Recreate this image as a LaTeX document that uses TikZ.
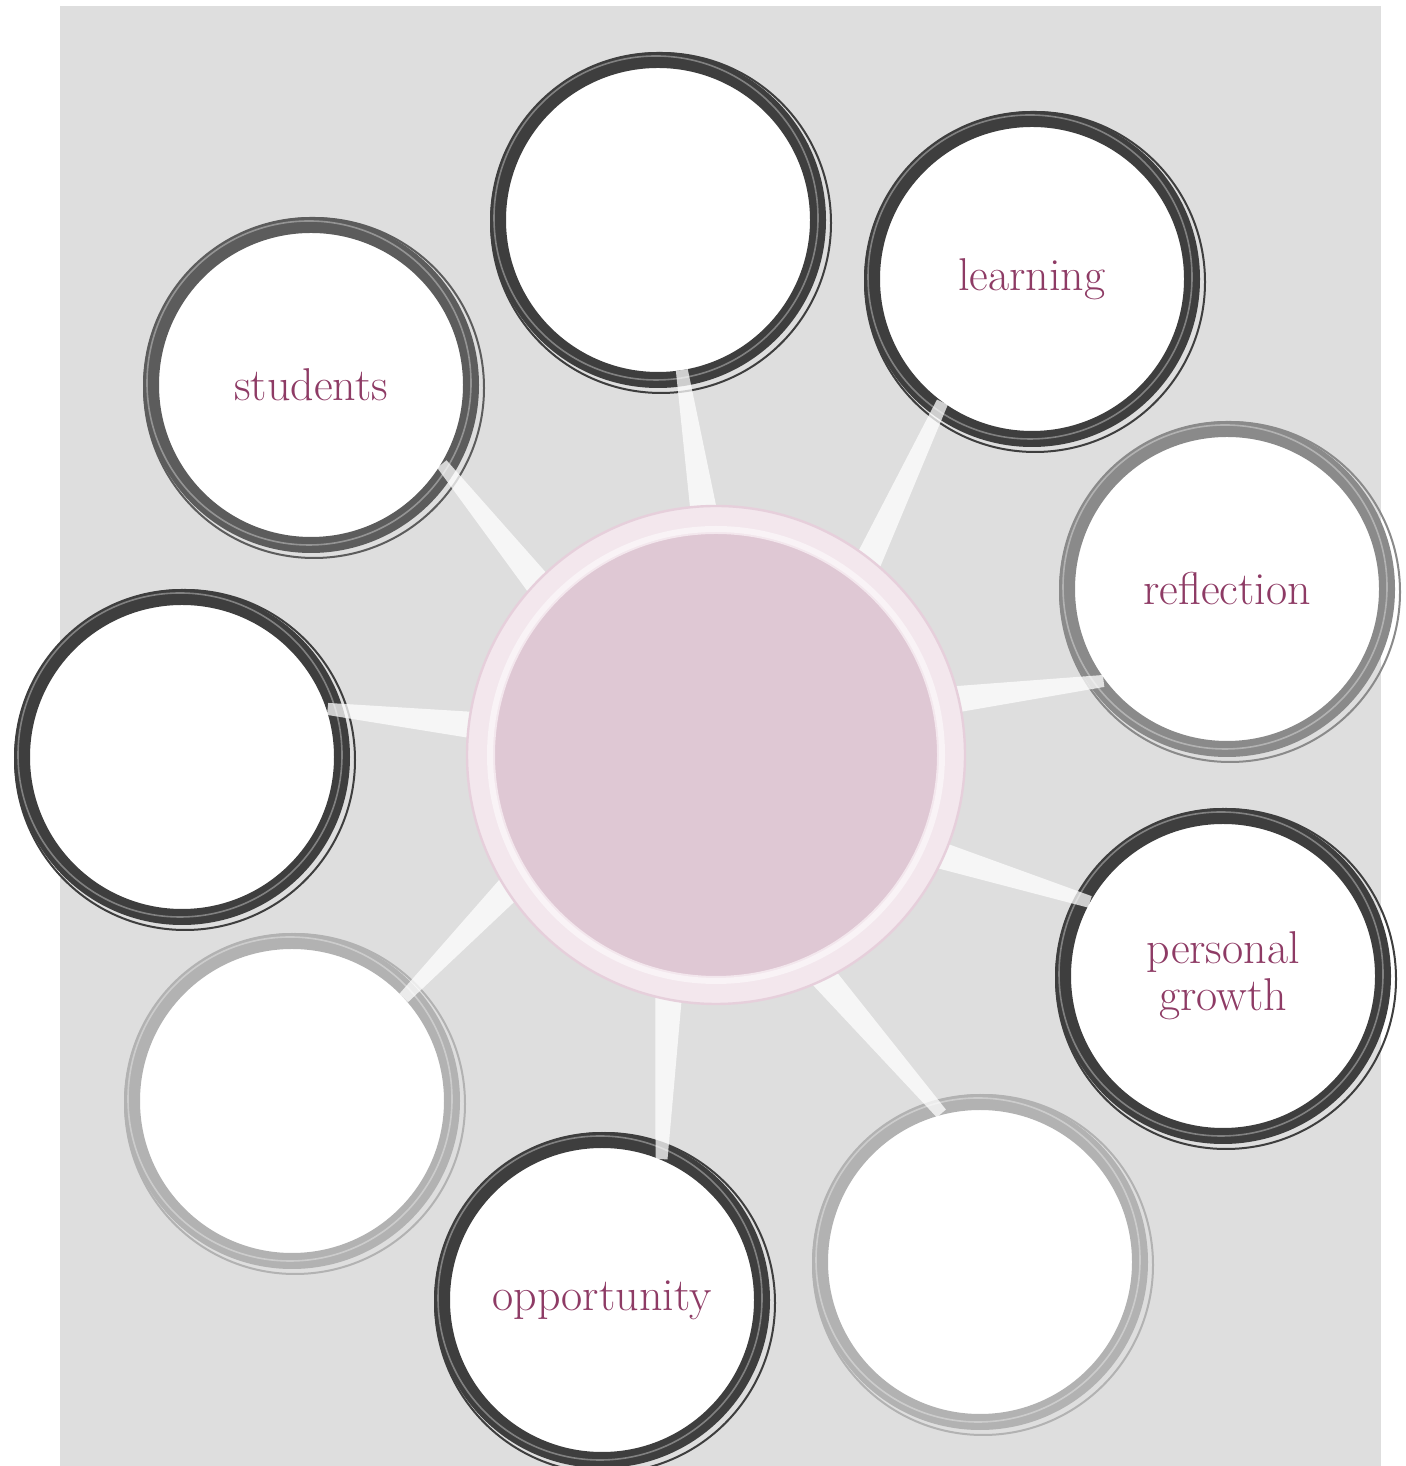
\documentclass[tikz,border=0pt]{standalone}
\usetikzlibrary{calc}
\definecolor{bggray}{HTML}{DEDEDE}
\definecolor{plum}{HTML}{8E3B65}
\definecolor{hubpink}{HTML}{DFC8D4}
\definecolor{hubrim}{HTML}{F3E7ED}
\definecolor{hubline}{HTML}{E6CFDB}
\definecolor{ringdark}{HTML}{3E3E3E}
\definecolor{ringmid}{HTML}{5C5C5C}
\definecolor{ringgray}{HTML}{8A8A8A}
\definecolor{ringlight}{HTML}{B2B2B2}
\pgfdeclarelayer{front}
\pgfsetlayers{main,front}
\tikzset{
  bubble/.style={circle,fill=white,minimum size=160pt,line width=8pt,inner sep=0pt,
    text=plum,align=center,font=\fontsize{23}{23.5}\selectfont},
  hubdisc/.style={circle,fill=hubpink,draw=hubrim,line width=14pt,minimum size=235pt},
  spoke/.style={fill=white,fill opacity=.75},
  brush/.style={line width=1pt}
}

\begin{document}
\begin{tikzpicture}[x=0.5pt,y=0.5pt]
\useasboundingbox (0,0) rectangle (1405,1466);
\fill[bggray] (60,0) rectangle (1381,1460);

% outer circles
\node[bubble,draw=ringdark]  (top)     at (658,1246) {};
\node[bubble,draw=ringdark]  (learn)   at (1032,1187) {learning};
\node[bubble,draw=ringgray]  (refl)    at (1227,877) {reflection};
\node[bubble,draw=ringdark]  (grow)    at (1223,490) {personal\\growth};
\node[bubble,draw=ringlight] (blankbr) at (980,204) {};
\node[bubble,draw=ringdark]  (opp)     at (602,166) {opportunity};
\node[bubble,draw=ringlight] (blankbl) at (292,365) {};
\node[bubble,draw=ringdark]  (blankl)  at (182,709) {};
\node[bubble,draw=ringmid]   (stud)    at (311,1081) {students};

% brushed edges
\foreach \n/\c in {top/ringdark,learn/ringdark,refl/ringgray,grow/ringdark,blankbr/ringlight,
                   opp/ringdark,blankbl/ringlight,blankl/ringdark,stud/ringmid} {
  \draw[brush,\c] ($(\n.center)+(3,-3)$) circle[radius=170];
  \draw[brush,white,opacity=.35,line width=.8pt] ($(\n.center)+(-2,2)$) circle[radius=162];
}

% centre
\begin{pgfonlayer}{front}
\node[hubdisc] (hub) at (716,711) {};
\draw[hubline,line width=1.2pt] (hub.center) circle[radius=249];
\draw[white,line width=3pt,opacity=.5] (hub.center) circle[radius=226];
\end{pgfonlayer}

% spokes
\foreach \n/\a/\b in {top/93/279,learn/52/235,refl/13/214,grow/336/152,blankbr/296/107,
                      opp/259/69,blankbl/213/43,blankl/173/16,stud/136/327} {
  \coordinate (s1) at ($(hub.\a)!-10pt!(\n.\b)$);
  \coordinate (s2) at ($(\n.\b)!-8pt!(hub.\a)$);
  \fill[spoke] ($(s1)!7pt!90:(s2)$) -- ($(s2)!3pt!-90:(s1)$)
    -- ($(s2)!3pt!90:(s1)$) -- ($(s1)!7pt!-90:(s2)$) -- cycle;
}
\end{tikzpicture}
\end{document}
